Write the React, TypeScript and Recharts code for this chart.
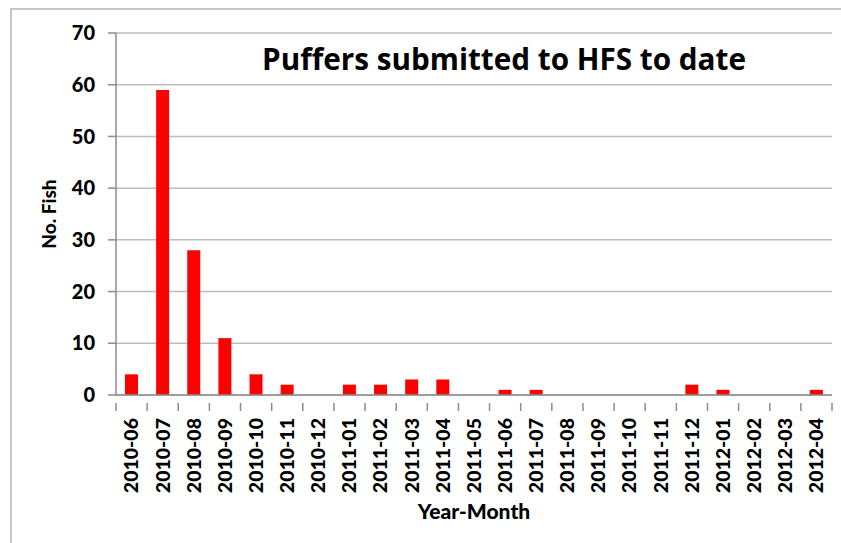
import React from 'react';
import { BarChart, Bar, XAxis, YAxis, CartesianGrid, Label } from 'recharts';

const MONTHS = [
    '2010-06', '2010-07', '2010-08', '2010-09', '2010-10', '2010-11', '2010-12',
    '2011-01', '2011-02', '2011-03', '2011-04', '2011-05', '2011-06', '2011-07',
    '2011-08', '2011-09', '2011-10', '2011-11', '2011-12', '2012-01', '2012-02',
    '2012-03', '2012-04',
];
const FISH_COUNTS = [4, 59, 28, 11, 4, 2, 0, 2, 2, 3, 3, 0, 1, 1, 0, 0, 0, 0, 2, 1, 0, 0, 1];
const Y_TICKS = [0, 10, 20, 30, 40, 50, 60, 70];

const W = 841;
const H = 543;
const MARGIN = { top: 33, right: 9, left: 0, bottom: 0 };
const Y_AXIS_W = 116;
const PLOT_W = W - MARGIN.left - MARGIN.right - Y_AXIS_W;
const STEP = PLOT_W / MONTHS.length;
const FONT = 'Lato, "Open Sans", sans-serif';
const AXIS_GRAY = '#8c8c8c';

const data = MONTHS.map((m, i) => ({ month: m, fish: FISH_COUNTS[i] }));

const MonthTick = ({ x, y, payload, index }: any) => {
    const left = x - STEP / 2;
    const isLast = index === MONTHS.length - 1;
    return (
        <g>
            <line x1={left} x2={left} y1={y} y2={y + 8} stroke={AXIS_GRAY} strokeWidth={1.5} />
            {isLast && <line x1={x + STEP / 2} x2={x + STEP / 2} y1={y} y2={y + 8} stroke={AXIS_GRAY} strokeWidth={1.5} />}
            <text
                transform={`translate(${x},${y + 15}) rotate(-90)`}
                textAnchor="end"
                dy="0.35em"
                fontFamily={FONT}
                fontWeight={900}
                fontSize={19.5}
                fill="#000"
            >
                {payload.value}
            </text>
        </g>
    );
};

const YLabel = ({ viewBox }: any) => {
    const cx = viewBox.x + 49;
    const cy = viewBox.y + viewBox.height / 2;
    return (
        <text
            transform={`translate(${cx},${cy}) rotate(-90)`}
            textAnchor="middle"
            dy="0.35em"
            fontFamily={FONT}
            fontWeight={900}
            fontSize={19}
            fill="#000"
        >
            No. Fish
        </text>
    );
};

export default function App() {
    return (
        <div style={{ position: 'absolute', left: 0, top: 0, width: W, height: H, overflow: 'hidden', background: '#fff' }}>
            <div style={{
                position: 'absolute', left: 10, top: 8, width: W + 20, height: H + 20,
                border: '2px solid #c6c6c6', boxSizing: 'border-box',
            }} />
            <div style={{
                position: 'absolute', left: 0, top: 39, width: 1008, textAlign: 'center',
                fontFamily: '"Open Sans", sans-serif', fontWeight: 700, fontSize: 29.7, color: '#000', zIndex: 2,
                lineHeight: '40px',
            }}>
                Puffers submitted to HFS to date
            </div>
            <BarChart width={W} height={H} data={data} margin={MARGIN} style={{ position: 'absolute', left: 0, top: 0 }}>
                <CartesianGrid vertical={false} stroke="#bdbdbd" strokeWidth={1.5} />
                <XAxis
                    dataKey="month"
                    height={H - MARGIN.top - 362}
                    axisLine={{ stroke: AXIS_GRAY, strokeWidth: 1.5 }}
                    tickLine={false}
                    interval={0}
                    tick={<MonthTick />}
                >
                    <Label value="Year-Month" position="insideBottom" offset={24}
                        style={{ fontFamily: FONT, fontWeight: 900, fontSize: 21, fill: '#000' }} />
                </XAxis>
                <YAxis
                    width={Y_AXIS_W}
                    domain={[0, 70]}
                    ticks={Y_TICKS}
                    axisLine={{ stroke: AXIS_GRAY, strokeWidth: 1.5 }}
                    tickLine={{ stroke: AXIS_GRAY, strokeWidth: 1.5 }}
                    tickSize={8}
                    tickMargin={13}
                    tick={{ fontFamily: FONT, fontWeight: 900, fontSize: 20, fill: '#000' }}
                >
                    <Label content={<YLabel />} />
                </YAxis>
                <Bar dataKey="fish" fill="#ff0000" barSize={13} isAnimationActive={false} />
            </BarChart>
        </div>
    );
}
